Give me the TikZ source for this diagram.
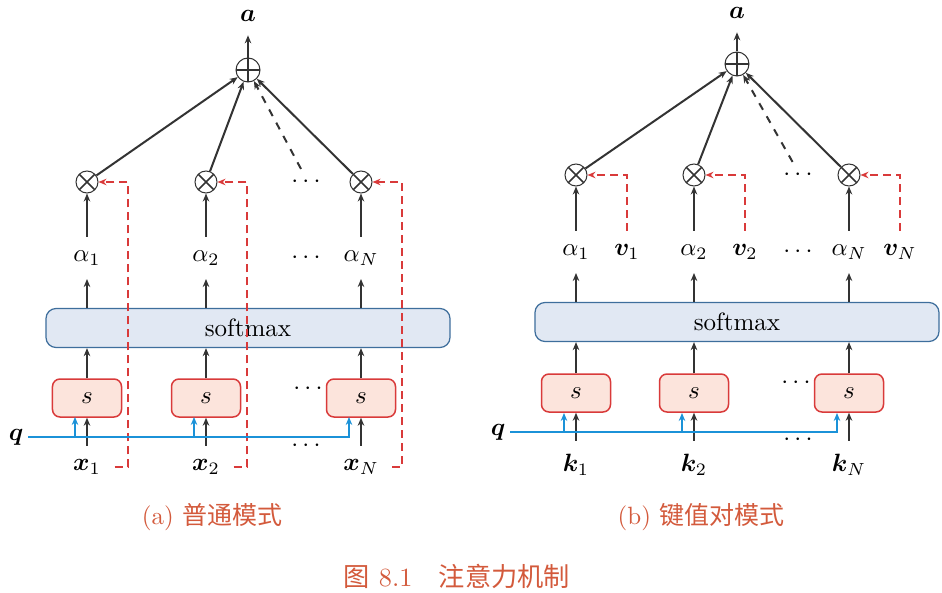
\documentclass[tikz,border=0pt]{standalone}
\usepackage{amsmath,bm}
\usepackage{fontspec}
\newfontfamily\cjk{Noto Sans CJK SC}
\usetikzlibrary{arrows.meta,positioning}

\definecolor{sred}{HTML}{D93A3A}
\definecolor{sfill}{HTML}{FCE4DC}
\definecolor{smblue}{HTML}{3E6E9C}
\definecolor{smfill}{HTML}{E1E8F3}
\definecolor{qblue}{HTML}{1B92D8}
\definecolor{capred}{HTML}{D35A3C}
\definecolor{arrgray}{HTML}{333333}

\begin{document}
\begin{tikzpicture}[
    x=0.4pt, y=-0.4pt,
    lbl/.style={inner sep=1pt, outer sep=4.5pt},
    dotsnode/.style={inner sep=0pt, outer sep=3pt},
    sbox/.style={draw=sred, fill=sfill, line width=0.6pt, rounded corners=3pt, minimum width=27.6pt, minimum height=15.2pt, inner sep=0pt},
    softbox/.style={draw=smblue, fill=smfill, line width=0.5pt, rounded corners=4pt, minimum width=161.6pt, minimum height=15.6pt, inner sep=0pt},
    omul/.style={circle, draw=arrgray, line width=0.4pt, minimum size=8.8pt, inner sep=0pt,
        path picture={\draw[line width=0.6pt] (path picture bounding box.north west) -- (path picture bounding box.south east)
            (path picture bounding box.north east) -- (path picture bounding box.south west);}},
    oadd/.style={circle, draw=arrgray, line width=0.4pt, minimum size=9.6pt, inner sep=0pt,
        path picture={\draw[line width=0.6pt] (path picture bounding box.north) -- (path picture bounding box.south)
            (path picture bounding box.west) -- (path picture bounding box.east);}},
    arr/.style={-{Stealth[length=3.2pt, width=2.6pt]}, line width=0.6pt, draw=arrgray},
    bigarr/.style={arr, line width=0.8pt},
    qarr/.style={-{Stealth[length=3.2pt, width=2.6pt]}, draw=qblue, line width=0.7pt},
    rarr/.style={-{Stealth[length=3.2pt, width=2.6pt]}, draw=sred, line width=0.6pt, dash pattern=on 3.2pt off 2pt},
    captext/.style={text=capred, inner sep=0pt, font=\fontsize{10}{12}\selectfont}
]
\useasboundingbox (0,0) rectangle (942,593);

% (a) plain attention
\node[softbox] (Lsoft) at (248,328) {softmax};
\node[oadd] (Lplus) at (248,70) {};
\node[lbl] (Lout) at (248,16) {$\bm{a}$};
\node[lbl, outer sep=1pt] (Lq) at (16,437) {$\bm{q}$};
\node[dotsnode] (Ldm) at (308,182) {$\cdots$};
\node[dotsnode] (Lda) at (308,258) {$\cdots$};
\node[dotsnode] (Lds) at (310,389) {$\cdots$};
\node[dotsnode] (Ldq) at (308,446) {$\cdots$};
\foreach \i/\x/\n in {1/87/1, 2/206/2, 3/361/N} {
    \node[omul] (Lm\i) at (\x,182) {};
    \node[lbl] (La\i) at (\x,258) {$\alpha_{\n}$};
    \node[sbox] (Ls\i) at (\x,398) {$s$};
    \node[lbl] (Lx\i) at (\x,467) {$\bm{x}_{\n}$};
    \coordinate (Lb\i) at (\x-12,417);
    \coordinate (Lr\i) at (\x+41,467);
    \draw[arr] (Lx\i) -- (Lx\i |- Ls\i.south);
    \draw[arr] (Ls\i) -- (Ls\i |- Lsoft.south);
    \draw[arr] (La\i |- Lsoft.north) -- (La\i);
    \draw[bigarr] (La\i) -- (Lm\i);
    \draw[bigarr] (Lm\i) -- (Lplus);
    \draw[rarr] (Lx\i) -- (Lr\i) |- (Lm\i);
}
\draw[qarr] (Lq) -| (Lb3);
\draw[qarr] (Lq -| Lb1) -- (Lb1);
\draw[qarr] (Lq -| Lb2) -- (Lb2);
\draw[bigarr, dashed] (Ldm) -- (Lplus);
\draw[arr] (Lplus) -- (Lout);

% (b) key-value attention
\node[softbox] (Rsoft) at (737,322) {softmax};
\node[oadd] (Rplus) at (737,64) {};
\node[lbl] (Rout) at (737,13) {$\bm{a}$};
\node[lbl, outer sep=1pt] (Rq) at (498,432) {$\bm{q}$};
\node[dotsnode] (Rdm) at (800,175) {$\cdots$};
\node[dotsnode] (Rda) at (800,252) {$\cdots$};
\node[dotsnode] (Rds) at (798,383) {$\cdots$};
\node[dotsnode] (Rdq) at (800,440) {$\cdots$};
\foreach \i/\x/\n in {1/576/1, 2/694/2, 3/849/N} {
    \node[omul] (Rm\i) at (\x,175) {};
    \node[lbl] (Ra\i) at (\x,252) {$\alpha_{\n}$};
    \node[lbl] (Rv\i) at (\x+51,252) {$\bm{v}_{\n}$};
    \node[sbox] (Rs\i) at (\x,393) {$s$};
    \node[lbl] (Rk\i) at (\x,465) {$\bm{k}_{\n}$};
    \coordinate (Rb\i) at (\x-12,413);
    \draw[arr] (Rk\i) -- (Rk\i |- Rs\i.south);
    \draw[arr] (Rs\i) -- (Rs\i |- Rsoft.south);
    \draw[arr] (Ra\i |- Rsoft.north) -- (Ra\i);
    \draw[bigarr] (Ra\i) -- (Rm\i);
    \draw[bigarr] (Rm\i) -- (Rplus);
    \draw[rarr] (Rv\i) |- (Rm\i);
}
\draw[qarr] (Rq) -| (Rb3);
\draw[qarr] (Rq -| Rb1) -- (Rb1);
\draw[qarr] (Rq -| Rb2) -- (Rb2);
\draw[bigarr, dashed] (Rdm) -- (Rplus);
\draw[arr] (Rplus) -- (Rout);

% captions
\node[captext] (capa) at (212,517) {(a) {\cjk 普通模式}};
\node[captext] (capb) at (701,517) {(b) {\cjk 键值对模式}};
\node[captext, font=\fontsize{10.5}{12}\selectfont] (capmain) at (457,576) {{\cjk 图} 8.1\quad{\cjk 注意力机制}};
\end{tikzpicture}
\end{document}
